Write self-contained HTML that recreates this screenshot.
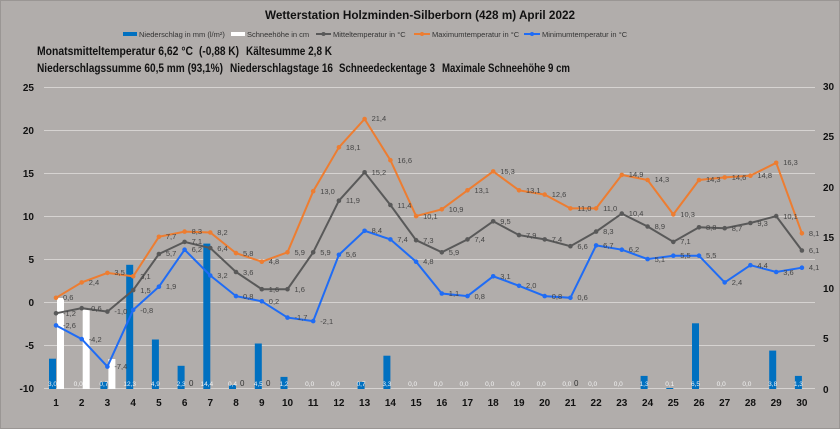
<!DOCTYPE html>
<html><head><meta charset="utf-8"><style>
body{margin:0;background:#b1adab;}
svg{display:block;font-family:"Liberation Sans",sans-serif;}
.dl{font-size:7.5px;fill:#454545;}
.pl{font-size:6.5px;fill:#f2f2f2;text-anchor:middle;}
.ax{font-size:10px;font-weight:bold;fill:#111;}
.st{font-size:12px;font-weight:bold;fill:#111;}
</style></head><body>
<svg width="840" height="429" viewBox="0 0 840 429">
<rect x="0" y="0" width="840" height="429" fill="#b1adab"/>
<rect x="0.5" y="0.5" width="839" height="428" fill="none" stroke="#9a9694"/>
<text x="265" y="19" font-size="12" font-weight="bold" fill="#111" textLength="310" lengthAdjust="spacingAndGlyphs">Wetterstation  Holzminden-Silberborn  (428 m) April  2022</text>
<g font-size="7.5" fill="#333">
<rect x="123" y="32" width="14" height="4" fill="#0070c0"/><text x="139" y="37">Niederschlag in mm (l/m²)</text>
<rect x="231" y="32" width="14" height="4" fill="#fff"/><text x="247" y="37">Schneehöhe in cm</text>
<line x1="316" y1="34" x2="331" y2="34" stroke="#595959" stroke-width="2"/><circle cx="323.5" cy="34" r="2" fill="#595959"/><text x="333" y="37">Mitteltemperatur in °C</text>
<line x1="414" y1="34" x2="430" y2="34" stroke="#ed7d31" stroke-width="2"/><circle cx="422" cy="34" r="2" fill="#ed7d31"/><text x="432" y="37">Maximumtemperatur in °C</text>
<line x1="524" y1="34" x2="540" y2="34" stroke="#1f6cf5" stroke-width="2"/><circle cx="532" cy="34" r="2" fill="#1f6cf5"/><text x="542" y="37">Minimumtemperatur in °C</text>
</g>
<text class="st" x="37" y="55" textLength="156" lengthAdjust="spacingAndGlyphs">Monatsmitteltemperatur 6,62 °C</text>
<text class="st" x="199" y="55" textLength="40" lengthAdjust="spacingAndGlyphs">(-0,88 K)</text>
<text class="st" x="246" y="55" textLength="86" lengthAdjust="spacingAndGlyphs">Kältesumme 2,8 K</text>
<text class="st" x="37" y="72" textLength="186" lengthAdjust="spacingAndGlyphs">Niederschlagssumme 60,5 mm (93,1%)</text>
<text class="st" x="230" y="72" textLength="103" lengthAdjust="spacingAndGlyphs">Niederschlagstage 16</text>
<text class="st" x="339" y="72" textLength="96" lengthAdjust="spacingAndGlyphs">Schneedeckentage 3</text>
<text class="st" x="442" y="72" textLength="128" lengthAdjust="spacingAndGlyphs">Maximale Schneehöhe 9 cm</text>
<g stroke="#d6d3d1" stroke-width="1">
<line x1="44" y1="87.5" x2="815" y2="87.5"/><line x1="44" y1="130.5" x2="815" y2="130.5"/><line x1="44" y1="173.5" x2="815" y2="173.5"/><line x1="44" y1="216.5" x2="815" y2="216.5"/><line x1="44" y1="259.5" x2="815" y2="259.5"/><line x1="44" y1="302.5" x2="815" y2="302.5"/><line x1="44" y1="345.5" x2="815" y2="345.5"/><line x1="44" y1="388.5" x2="815" y2="388.5"/>
</g>
<g class="ax" text-anchor="end">
<text x="34" y="91">25</text><text x="34" y="134">20</text><text x="34" y="177">15</text><text x="34" y="220">10</text><text x="34" y="263">5</text><text x="34" y="306">0</text><text x="34" y="349">-5</text><text x="34" y="392">-10</text>
</g>
<g class="ax">
<text x="823" y="90">30</text><text x="823" y="140">25</text><text x="823" y="191">20</text><text x="823" y="241">15</text><text x="823" y="292">10</text><text x="823" y="342">5</text><text x="823" y="393">0</text>
</g>
<g class="ax" text-anchor="middle">
<text x="56" y="406">1</text><text x="81.7" y="406">2</text><text x="107.4" y="406">3</text><text x="133.2" y="406">4</text><text x="158.9" y="406">5</text><text x="184.6" y="406">6</text><text x="210.3" y="406">7</text><text x="236" y="406">8</text><text x="261.8" y="406">9</text><text x="287.5" y="406">10</text><text x="313.2" y="406">11</text><text x="338.9" y="406">12</text><text x="364.6" y="406">13</text><text x="390.4" y="406">14</text><text x="416.1" y="406">15</text><text x="441.8" y="406">16</text><text x="467.5" y="406">17</text><text x="493.2" y="406">18</text><text x="519" y="406">19</text><text x="544.7" y="406">20</text><text x="570.4" y="406">21</text><text x="596.1" y="406">22</text><text x="621.8" y="406">23</text><text x="647.6" y="406">24</text><text x="673.3" y="406">25</text><text x="699" y="406">26</text><text x="724.7" y="406">27</text><text x="750.4" y="406">28</text><text x="776.2" y="406">29</text><text x="801.9" y="406">30</text>
</g>
<g fill="#0070c0">
<rect x="49" y="358.7" width="7" height="30.3"/>
<rect x="100.4" y="381.9" width="7" height="7.1"/>
<rect x="126.2" y="264.8" width="7" height="124.2"/>
<rect x="151.9" y="339.5" width="7" height="49.5"/>
<rect x="177.6" y="365.8" width="7" height="23.2"/>
<rect x="203.3" y="243.6" width="7" height="145.4"/>
<rect x="229" y="385" width="7" height="4"/>
<rect x="254.8" y="343.5" width="7" height="45.5"/>
<rect x="280.5" y="376.9" width="7" height="12.1"/>
<rect x="357.6" y="381.9" width="7" height="7.1"/>
<rect x="383.4" y="355.7" width="7" height="33.3"/>
<rect x="640.6" y="375.9" width="7" height="13.1"/>
<rect x="666.3" y="388" width="7" height="1"/>
<rect x="692" y="323.3" width="7" height="65.7"/>
<rect x="769.2" y="350.6" width="7" height="38.4"/>
<rect x="794.9" y="375.9" width="7" height="13.1"/>
</g>
<g fill="#fff">
<rect x="57" y="298" width="7" height="91"/>
<rect x="82.7" y="308" width="7" height="81"/>
<rect x="108.4" y="359" width="7" height="30"/>
</g>
<g class="pl">
<text x="52.5" y="386">3,0</text><text x="78.2" y="386">0,0</text><text x="103.9" y="386">0,7</text><text x="129.7" y="386">12,3</text><text x="155.4" y="386">4,9</text><text x="181.1" y="386">2,3</text><text x="206.8" y="386">14,4</text><text x="232.5" y="386">0,4</text><text x="258.3" y="386">4,5</text><text x="284" y="386">1,2</text><text x="309.7" y="386">0,0</text><text x="335.4" y="386">0,0</text><text x="361.1" y="386">0,7</text><text x="386.9" y="386">3,3</text><text x="412.6" y="386">0,0</text><text x="438.3" y="386">0,0</text><text x="464" y="386">0,0</text><text x="489.7" y="386">0,0</text><text x="515.5" y="386">0,0</text><text x="541.2" y="386">0,0</text><text x="566.9" y="386">0,0</text><text x="592.6" y="386">0,0</text><text x="618.3" y="386">0,0</text><text x="644.1" y="386">1,3</text><text x="669.8" y="386">0,1</text><text x="695.5" y="386">6,5</text><text x="721.2" y="386">0,0</text><text x="746.9" y="386">0,0</text><text x="772.7" y="386">3,8</text><text x="798.4" y="386">1,3</text>
</g>
<g font-size="8" fill="#333"><text x="189" y="386">0</text><text x="240" y="386">0</text><text x="266" y="386">0</text><text x="574" y="386">0</text></g>
<polyline fill="none" stroke="#ed7d31" stroke-width="2" points="56,297.8 81.7,282.4 107.4,272.9 133.2,276.3 158.9,236.8 184.6,231.6 210.3,232.5 236,253.1 261.8,261.7 287.5,252.3 313.2,191.2 338.9,147.3 364.6,119 390.4,160.2 416.1,216.1 441.8,209.3 467.5,190.3 493.2,171.4 519,190.3 544.7,194.6 570.4,208.4 596.1,208.4 621.8,174.9 647.6,180 673.3,214.4 699,180 724.7,177.4 750.4,175.7 776.2,162.8 801.9,233.3"/>
<polyline fill="none" stroke="#595959" stroke-width="2" points="56,313.3 81.7,308.2 107.4,311.6 133.2,290.1 158.9,254 184.6,241.9 210.3,248 236,272 261.8,289.2 287.5,289.2 313.2,252.3 338.9,200.7 364.6,172.3 390.4,205 416.1,240.2 441.8,252.3 467.5,239.4 493.2,221.3 519,235.1 544.7,239.4 570.4,246.2 596.1,231.6 621.8,213.6 647.6,226.5 673.3,241.9 699,227.3 724.7,228.2 750.4,223 776.2,216.1 801.9,250.5"/>
<polyline fill="none" stroke="#1f6cf5" stroke-width="2" points="56,325.4 81.7,339.1 107.4,366.6 133.2,309.9 158.9,286.7 184.6,249.7 210.3,275.5 236,296.1 261.8,301.3 287.5,317.6 313.2,321.1 338.9,254.8 364.6,230.8 390.4,239.4 416.1,261.7 441.8,293.5 467.5,296.1 493.2,276.3 519,285.8 544.7,296.1 570.4,297.8 596.1,245.4 621.8,249.7 647.6,259.1 673.3,255.7 699,255.7 724.7,282.4 750.4,265.2 776.2,272 801.9,267.7"/>
<g fill="#ed7d31">
<circle cx="56" cy="297.8" r="2.3"/><circle cx="81.7" cy="282.4" r="2.3"/><circle cx="107.4" cy="272.9" r="2.3"/><circle cx="133.2" cy="276.3" r="2.3"/><circle cx="158.9" cy="236.8" r="2.3"/><circle cx="184.6" cy="231.6" r="2.3"/><circle cx="210.3" cy="232.5" r="2.3"/><circle cx="236" cy="253.1" r="2.3"/><circle cx="261.8" cy="261.7" r="2.3"/><circle cx="287.5" cy="252.3" r="2.3"/><circle cx="313.2" cy="191.2" r="2.3"/><circle cx="338.9" cy="147.3" r="2.3"/><circle cx="364.6" cy="119" r="2.3"/><circle cx="390.4" cy="160.2" r="2.3"/><circle cx="416.1" cy="216.1" r="2.3"/><circle cx="441.8" cy="209.3" r="2.3"/><circle cx="467.5" cy="190.3" r="2.3"/><circle cx="493.2" cy="171.4" r="2.3"/><circle cx="519" cy="190.3" r="2.3"/><circle cx="544.7" cy="194.6" r="2.3"/><circle cx="570.4" cy="208.4" r="2.3"/><circle cx="596.1" cy="208.4" r="2.3"/><circle cx="621.8" cy="174.9" r="2.3"/><circle cx="647.6" cy="180" r="2.3"/><circle cx="673.3" cy="214.4" r="2.3"/><circle cx="699" cy="180" r="2.3"/><circle cx="724.7" cy="177.4" r="2.3"/><circle cx="750.4" cy="175.7" r="2.3"/><circle cx="776.2" cy="162.8" r="2.3"/><circle cx="801.9" cy="233.3" r="2.3"/>
</g>
<g fill="#595959">
<circle cx="56" cy="313.3" r="2.3"/><circle cx="81.7" cy="308.2" r="2.3"/><circle cx="107.4" cy="311.6" r="2.3"/><circle cx="133.2" cy="290.1" r="2.3"/><circle cx="158.9" cy="254" r="2.3"/><circle cx="184.6" cy="241.9" r="2.3"/><circle cx="210.3" cy="248" r="2.3"/><circle cx="236" cy="272" r="2.3"/><circle cx="261.8" cy="289.2" r="2.3"/><circle cx="287.5" cy="289.2" r="2.3"/><circle cx="313.2" cy="252.3" r="2.3"/><circle cx="338.9" cy="200.7" r="2.3"/><circle cx="364.6" cy="172.3" r="2.3"/><circle cx="390.4" cy="205" r="2.3"/><circle cx="416.1" cy="240.2" r="2.3"/><circle cx="441.8" cy="252.3" r="2.3"/><circle cx="467.5" cy="239.4" r="2.3"/><circle cx="493.2" cy="221.3" r="2.3"/><circle cx="519" cy="235.1" r="2.3"/><circle cx="544.7" cy="239.4" r="2.3"/><circle cx="570.4" cy="246.2" r="2.3"/><circle cx="596.1" cy="231.6" r="2.3"/><circle cx="621.8" cy="213.6" r="2.3"/><circle cx="647.6" cy="226.5" r="2.3"/><circle cx="673.3" cy="241.9" r="2.3"/><circle cx="699" cy="227.3" r="2.3"/><circle cx="724.7" cy="228.2" r="2.3"/><circle cx="750.4" cy="223" r="2.3"/><circle cx="776.2" cy="216.1" r="2.3"/><circle cx="801.9" cy="250.5" r="2.3"/>
</g>
<g fill="#1f6cf5">
<circle cx="56" cy="325.4" r="2.3"/><circle cx="81.7" cy="339.1" r="2.3"/><circle cx="107.4" cy="366.6" r="2.3"/><circle cx="133.2" cy="309.9" r="2.3"/><circle cx="158.9" cy="286.7" r="2.3"/><circle cx="184.6" cy="249.7" r="2.3"/><circle cx="210.3" cy="275.5" r="2.3"/><circle cx="236" cy="296.1" r="2.3"/><circle cx="261.8" cy="301.3" r="2.3"/><circle cx="287.5" cy="317.6" r="2.3"/><circle cx="313.2" cy="321.1" r="2.3"/><circle cx="338.9" cy="254.8" r="2.3"/><circle cx="364.6" cy="230.8" r="2.3"/><circle cx="390.4" cy="239.4" r="2.3"/><circle cx="416.1" cy="261.7" r="2.3"/><circle cx="441.8" cy="293.5" r="2.3"/><circle cx="467.5" cy="296.1" r="2.3"/><circle cx="493.2" cy="276.3" r="2.3"/><circle cx="519" cy="285.8" r="2.3"/><circle cx="544.7" cy="296.1" r="2.3"/><circle cx="570.4" cy="297.8" r="2.3"/><circle cx="596.1" cy="245.4" r="2.3"/><circle cx="621.8" cy="249.7" r="2.3"/><circle cx="647.6" cy="259.1" r="2.3"/><circle cx="673.3" cy="255.7" r="2.3"/><circle cx="699" cy="255.7" r="2.3"/><circle cx="724.7" cy="282.4" r="2.3"/><circle cx="750.4" cy="265.2" r="2.3"/><circle cx="776.2" cy="272" r="2.3"/><circle cx="801.9" cy="267.7" r="2.3"/>
</g>
<g class="dl">
<text x="63" y="300">0,6</text><text x="88.7" y="285">2,4</text><text x="114.4" y="275">3,5</text><text x="140.2" y="279">3,1</text><text x="165.9" y="239">7,7</text><text x="191.6" y="234">8,3</text><text x="217.3" y="235">8,2</text><text x="243" y="256">5,8</text><text x="268.8" y="264">4,8</text><text x="294.5" y="255">5,9</text><text x="320.2" y="194">13,0</text><text x="345.9" y="150">18,1</text><text x="371.6" y="121">21,4</text><text x="397.4" y="163">16,6</text><text x="423.1" y="219">10,1</text><text x="448.8" y="212">10,9</text><text x="474.5" y="193">13,1</text><text x="500.2" y="174">15,3</text><text x="526" y="193">13,1</text><text x="551.7" y="197">12,6</text><text x="577.4" y="211">11,0</text><text x="603.1" y="211">11,0</text><text x="628.8" y="177">14,9</text><text x="654.6" y="182">14,3</text><text x="680.3" y="217">10,3</text><text x="706" y="182">14,3</text><text x="731.7" y="180">14,6</text><text x="757.4" y="178">14,8</text><text x="783.2" y="165">16,3</text><text x="808.9" y="236">8,1</text>
<text x="63" y="316">-1,2</text><text x="88.7" y="311">-0,6</text><text x="114.4" y="314">-1,0</text><text x="140.2" y="293">1,5</text><text x="165.9" y="256">5,7</text><text x="191.6" y="244">7,1</text><text x="217.3" y="251">6,4</text><text x="243" y="275">3,6</text><text x="268.8" y="292">1,6</text><text x="294.5" y="292">1,6</text><text x="320.2" y="255">5,9</text><text x="345.9" y="203">11,9</text><text x="371.6" y="175">15,2</text><text x="397.4" y="208">11,4</text><text x="423.1" y="243">7,3</text><text x="448.8" y="255">5,9</text><text x="474.5" y="242">7,4</text><text x="500.2" y="224">9,5</text><text x="526" y="238">7,9</text><text x="551.7" y="242">7,4</text><text x="577.4" y="249">6,6</text><text x="603.1" y="234">8,3</text><text x="628.8" y="216">10,4</text><text x="654.6" y="229">8,9</text><text x="680.3" y="244">7,1</text><text x="706" y="230">8,8</text><text x="731.7" y="231">8,7</text><text x="757.4" y="226">9,3</text><text x="783.2" y="219">10,1</text><text x="808.9" y="253">6,1</text>
<text x="63" y="328">-2,6</text><text x="88.7" y="342">-4,2</text><text x="114.4" y="369">-7,4</text><text x="140.2" y="313">-0,8</text><text x="165.9" y="289">1,9</text><text x="191.6" y="252">6,2</text><text x="217.3" y="278">3,2</text><text x="243" y="299">0,8</text><text x="268.8" y="304">0,2</text><text x="294.5" y="320">-1,7</text><text x="320.2" y="324">-2,1</text><text x="345.9" y="257">5,6</text><text x="371.6" y="233">8,4</text><text x="397.4" y="242">7,4</text><text x="423.1" y="264">4,8</text><text x="448.8" y="296">1,1</text><text x="474.5" y="299">0,8</text><text x="500.2" y="279">3,1</text><text x="526" y="288">2,0</text><text x="551.7" y="299">0,8</text><text x="577.4" y="300">0,6</text><text x="603.1" y="248">6,7</text><text x="628.8" y="252">6,2</text><text x="654.6" y="262">5,1</text><text x="680.3" y="258">5,5</text><text x="706" y="258">5,5</text><text x="731.7" y="285">2,4</text><text x="757.4" y="268">4,4</text><text x="783.2" y="275">3,6</text><text x="808.9" y="270">4,1</text>
</g>
</svg>
</body></html>
